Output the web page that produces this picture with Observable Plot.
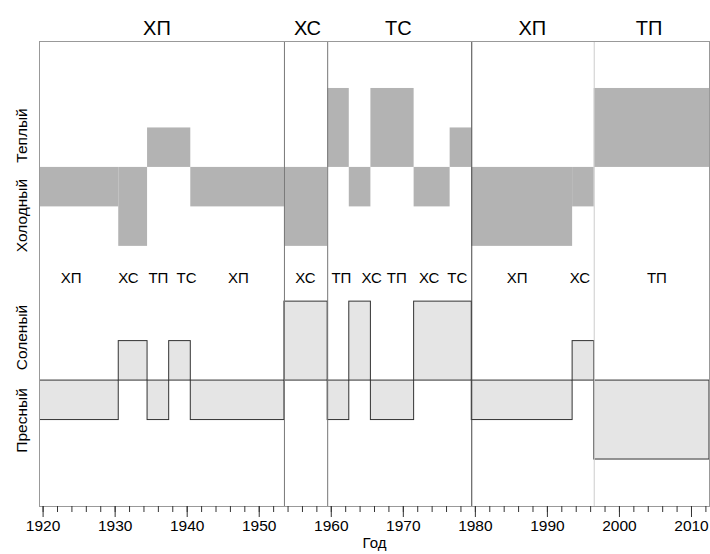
<!DOCTYPE html>
<html>
<head>
<meta charset="utf-8">
<script src="https://cdn.jsdelivr.net/npm/d3@7"></script>
<script src="https://cdn.jsdelivr.net/npm/@observablehq/plot@0.6"></script>
<style>
  html, body { margin: 0; padding: 0; background: #fff; }
  #chart svg { display: block; }
</style>
</head>
<body>
<div id="chart"></div>
<script>
// Temperature regime segments (top panel): years start..end, level (+ warm, - cold)
const tempStart = [1920, 1931, 1935, 1941, 1954, 1960, 1963, 1966, 1972, 1977, 1980, 1994, 1997];
const tempEnd   = [1930, 1934, 1940, 1953, 1959, 1962, 1965, 1971, 1976, 1979, 1993, 1996, 2012];
const tempVal   = [  -1,   -2,    1,   -1,   -2,    2,   -1,    2,   -1,    1,   -2,   -1,    2];

// Salinity regime segments (bottom panel): (+ salty, - fresh)
const salStart = [1920, 1931, 1935, 1938, 1941, 1954, 1960, 1963, 1966, 1972, 1980, 1994, 1997];
const salEnd   = [1930, 1934, 1937, 1940, 1953, 1959, 1962, 1965, 1971, 1979, 1993, 1996, 2012];
const salVal   = [  -1,    1,   -1,    1,   -1,    2,   -1,    2,   -1,    2,   -1,    1,   -2];

// Period boundaries
const dividers = [1953.5, 1959.5, 1979.5, 1996.5];
const dividerShade = ["#777", "#777", "#444", "#ccc"];

// Top (period) labels
const periodLabels = ["ХП", "ХС", "ТС", "ХП", "ТП"];
const periodYears  = [1935.8, 1956.7, 1969.3, 1987.9, 2004.1];

// Middle (sub-period) labels
const subLabels = ["ХП", "ХС", "ТП", "ТС", "ХП", "ХС", "ТП", "ХС", "ТП", "ХС", "ТС", "ХП", "ХС", "ТП"];
const subYears  = [1923.9, 1931.85, 1936.0, 1939.9, 1947.1, 1956.4, 1961.4, 1965.6, 1969.1, 1973.6, 1977.5, 1985.8, 1994.5, 2005.2];

// Side labels
const sideLabels = ["Теплый", "Холодный", "Соленый", "Пресный"];
const sideY      = [3.51, 1.48, -1.61, -3.71];

const majorTicks = d3.range(1920, 2011, 10);
const minorTicks = d3.range(1920, 2013, 2);

const TOP_BASE = 2.7, BOT_BASE = -2.7;
const tempData = tempStart.map((s, i) => ({x1: s - 0.5, x2: tempEnd[i] + 0.5, y1: TOP_BASE, y2: TOP_BASE + tempVal[i]}));
const salData  = salStart.map((s, i) => ({x1: s - 0.5, x2: salEnd[i] + 0.5, y1: BOT_BASE, y2: BOT_BASE + salVal[i]}));
const divData = dividers.map((d, i) => ({x: d, c: dividerShade[i]}));

const font = "'Liberation Sans', Arial, Helvetica, sans-serif";

const chart = Plot.plot({
  width: 710,
  height: 554,
  marginLeft: 39,
  marginRight: 1,
  marginTop: 41,
  marginBottom: 48,
  style: {fontFamily: font, background: "#fff", color: "#000"},
  x: {domain: [1919.5, 2012.5]},
  y: {domain: [-5.89, 5.89], axis: null},
  marks: [
    Plot.rect(tempData, {x1: "x1", x2: "x2", y1: "y1", y2: "y2", fill: "#b3b3b3", clip: true}),
    Plot.rect(salData, {x1: "x1", x2: "x2", y1: "y1", y2: "y2", fill: "#e5e5e5", stroke: "#333", strokeWidth: 1, clip: true}),
    Plot.ruleX(divData, {x: "x", stroke: "c", strokeWidth: 1}),
    Plot.frame({stroke: "#999"}),
    Plot.text(periodLabels, {x: (d, i) => periodYears[i], y: 6.22, text: d => d, fontSize: 20, fill: "#000"}),
    Plot.text(subLabels, {x: (d, i) => subYears[i], y: -0.1, text: d => d, fontSize: 15, fill: "#000"}),
    Plot.text(sideLabels, {y: (d, i) => sideY[i], text: d => d, frameAnchor: "left", textAnchor: "middle", lineAnchor: "middle", dx: -17.5, rotate: -90, fontSize: 15.5, fill: "#000"}),
    Plot.axisX({ticks: minorTicks, tickSize: 6, tickFormat: () => "", stroke: "#333", label: null}),
    Plot.axisX({ticks: majorTicks, tickSize: 11, tickFormat: () => "", stroke: "#333", label: null}),
    Plot.text(majorTicks, {x: d => d, text: d => String(d), frameAnchor: "bottom", dy: 24, fontSize: 15.5, fill: "#000"}),
    Plot.text(["Год"], {frameAnchor: "bottom", dy: 41, text: d => d, fontSize: 15, fill: "#000"})
  ]
});
document.getElementById("chart").appendChild(chart);
</script>
</body>
</html>
